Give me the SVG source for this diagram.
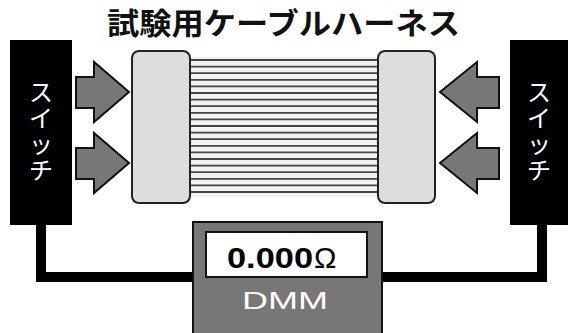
<svg xmlns="http://www.w3.org/2000/svg" width="570" height="333" viewBox="0 0 570 333">
  <defs>
    <style>
      .sw { fill: #000; }
      .swtext { fill: #fff; font-family: "Noto Sans CJK JP", "Noto Sans", sans-serif; font-size: 24px; letter-spacing: 2px; writing-mode: vertical-rl; font-feature-settings: "vert" 0, "vrt2" 0; }
      .arrow { fill: #777; stroke: #111; stroke-width: 2; stroke-linejoin: miter; }
      .conn { fill: #ddd; stroke: #222; stroke-width: 2; }
      .wire { stroke: #444; stroke-width: 1.8; }
      .lead { fill: none; stroke: #000; stroke-width: 10; stroke-linejoin: miter; }
    </style>
  </defs>
  <rect width="570" height="333" fill="#fff"/>

  <!-- title -->
  <text x="107" y="34" textLength="353" lengthAdjust="spacingAndGlyphs" font-family="'Noto Sans CJK JP', sans-serif" font-size="30" font-weight="bold" fill="#111">試験用ケーブルハーネス</text>

  <!-- test leads -->
  <g id="connectors">
    <polyline class="lead" points="41,225 41,277 194,277"/>
    <polyline class="lead" points="542,225 542,277 382,277"/>
  </g>

  <!-- cable bundle -->
  <g id="harness">
    <rect x="189" y="57" width="190" height="140" fill="#f2f2f2"/>
    <g class="wire">
      <line x1="189" y1="60" x2="379" y2="60"/>
      <line x1="189" y1="66.6" x2="379" y2="66.6"/>
      <line x1="189" y1="73.2" x2="379" y2="73.2"/>
      <line x1="189" y1="79.8" x2="379" y2="79.8"/>
      <line x1="189" y1="86.4" x2="379" y2="86.4"/>
      <line x1="189" y1="93" x2="379" y2="93"/>
      <line x1="189" y1="99.6" x2="379" y2="99.6"/>
      <line x1="189" y1="106.2" x2="379" y2="106.2"/>
      <line x1="189" y1="112.8" x2="379" y2="112.8"/>
      <line x1="189" y1="119.4" x2="379" y2="119.4"/>
      <line x1="189" y1="126" x2="379" y2="126"/>
      <line x1="189" y1="132.6" x2="379" y2="132.6"/>
      <line x1="189" y1="139.2" x2="379" y2="139.2"/>
      <line x1="189" y1="145.8" x2="379" y2="145.8"/>
      <line x1="189" y1="152.4" x2="379" y2="152.4"/>
      <line x1="189" y1="159" x2="379" y2="159"/>
      <line x1="189" y1="165.6" x2="379" y2="165.6"/>
      <line x1="189" y1="172.2" x2="379" y2="172.2"/>
      <line x1="189" y1="178.8" x2="379" y2="178.8"/>
      <line x1="189" y1="185.4" x2="379" y2="185.4"/>
      <line x1="189" y1="192" x2="379" y2="192"/>
    </g>
  </g>

  <g id="plug-left">
    <rect class="conn" x="132" y="51" width="58" height="152" rx="7"/>
  </g>
  <g id="plug-right">
    <rect class="conn" x="378" y="51" width="57" height="152" rx="7"/>
  </g>

  <!-- switches -->
  <g id="switch-left">
    <rect class="sw" x="10" y="40" width="62" height="185"/>
    <text class="swtext" x="41" y="80">スイッチ</text>
  </g>
  <g id="switch-right">
    <rect class="sw" x="510" y="40" width="58" height="185"/>
    <text class="swtext" x="539" y="80">スイッチ</text>
  </g>

  <!-- push arrows -->
  <g id="arrow-left-top">
    <polygon class="arrow" points="76,77 94,77 94,62 129,92 94,122 94,108 76,108"/>
  </g>
  <g id="arrow-left-bottom">
    <polygon class="arrow" points="76,148 94,148 94,133 129,163 94,193 94,179 76,179"/>
  </g>
  <g id="arrow-right-top">
    <polygon class="arrow" points="499,77 477,77 477,62 440,92 477,122 477,108 499,108"/>
  </g>
  <g id="arrow-right-bottom">
    <polygon class="arrow" points="499,148 477,148 477,133 440,163 477,193 477,179 499,179"/>
  </g>

  <!-- meter -->
  <g id="dmm">
    <rect x="193" y="222" width="189" height="115" fill="#777" stroke="#111" stroke-width="2"/>
    <rect x="206" y="232" width="161" height="45" fill="#fff" stroke="#111" stroke-width="2"/>
    <text x="227" y="268" textLength="86" lengthAdjust="spacingAndGlyphs" font-family="'Liberation Sans', Arial, sans-serif" font-size="29" font-weight="bold" fill="#000">0.000</text>
    <text x="314" y="268" font-family="'Liberation Sans', Arial, sans-serif" font-size="30" fill="#000">Ω</text>
    <text x="242" y="309" textLength="86" lengthAdjust="spacingAndGlyphs" font-family="'Liberation Sans', Arial, sans-serif" font-size="24" fill="#fff">DMM</text>
  </g>
</svg>
